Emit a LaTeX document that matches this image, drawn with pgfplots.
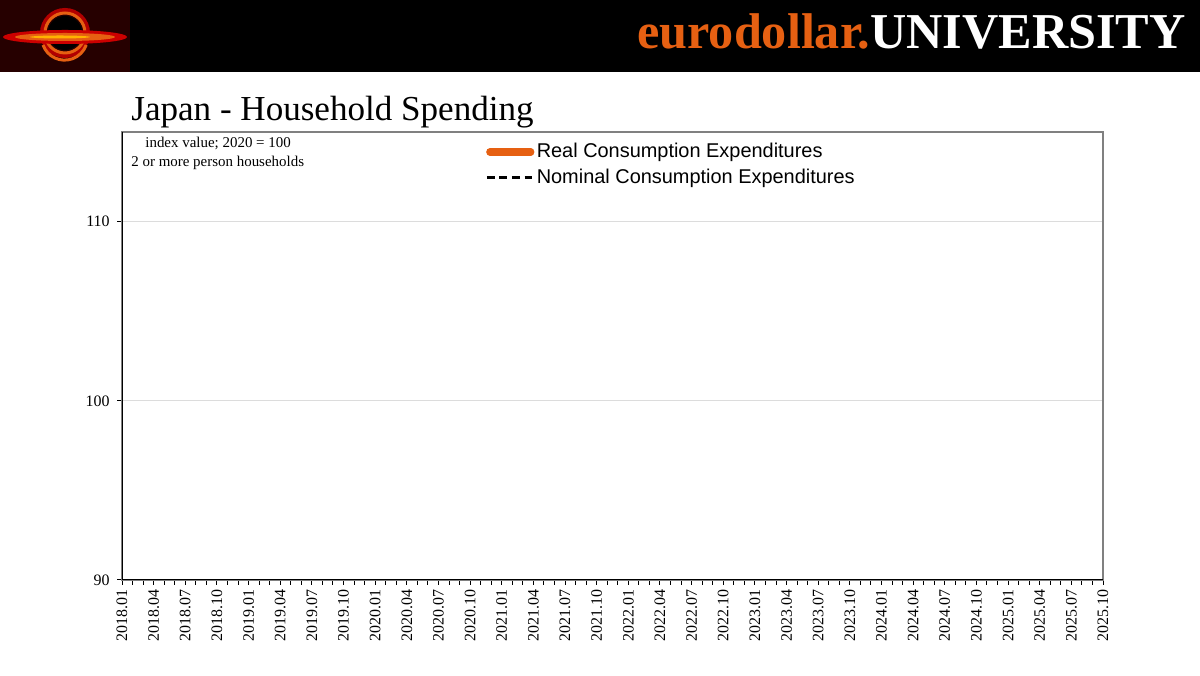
\documentclass[border=0pt]{standalone}
\usepackage{fontspec}
\setmainfont{Liberation Serif}
\newfontfamily\arial{Liberation Sans}
\usepackage{pgfplots}
\pgfplotsset{compat=1.18}
\definecolor{edorange}{RGB}{230,96,18}
\definecolor{framegray}{RGB}{128,128,128}
\definecolor{gridgray}{RGB}{220,220,220}
\pgfplotsset{
  realleg/.style={legend image code/.code={\draw[edorange, line width=3.6bp, line cap=round] (2.5bp,0pt) -- (23bp,0pt);}},
  nomleg/.style={legend image code/.code={\draw[black, line width=1.4bp, dash pattern=on 4bp off 2.3bp] (1bp,0pt) -- (23.5bp,0pt);}},
}
\begin{document}
\begin{tikzpicture}[x=0.5bp,y=0.5bp]
\path[use as bounding box,fill=white] (0,0) rectangle (1200,675);
% header bar
\fill[black] (0,603) rectangle (1200,675);
% logo (stylised)
\begin{scope}
\fill[black!85!red] (0,603) rectangle (130,675);
\draw[red!70!black,line width=3bp] (65,642) circle [radius=22];
\draw[edorange,line width=1.5bp] (65,642) circle [radius=20];
\fill[black] (65,642) circle [radius=17];
\fill[red!80!black] (65,638) ellipse [x radius=62, y radius=7];
\fill[edorange] (65,638) ellipse [x radius=50, y radius=4];
\fill[orange!60!yellow] (60,638) ellipse [x radius=30, y radius=1.5];
\draw[edorange,line width=1.5bp] (43,630) arc[start angle=200,end angle=340,radius=23];
\end{scope}
\node[anchor=base east,inner sep=0pt,font=\fontsize{25.2}{29}\selectfont\bfseries] at (1186,626)
  {\textcolor{edorange}{eurodollar.}\textcolor{white}{UNIVERSITY}};
% title
\node[anchor=base west,inner sep=0pt,font=\fontsize{17.6}{20}\selectfont] at (131,554) {Japan - Household Spending};
\node[anchor=base west,inner sep=0pt,font=\fontsize{7.5}{9}\selectfont] at (145,527) {index value; 2020 = 100};
\node[anchor=base west,inner sep=0pt,font=\fontsize{7.5}{9}\selectfont] at (131,508) {2 or more person households};
\begin{axis}[
  at={(61bp,47.5bp)}, anchor=south west,
  scale only axis, width=490.5bp, height=224bp,
  xmin=0, xmax=93, ymin=90, ymax=115,
  axis line style={framegray, line width=1bp},
  xtick={0,3,...,93},
  minor xtick={0,1,...,93},
  xticklabels={2018.01,2018.04,2018.07,2018.10,2019.01,2019.04,2019.07,2019.10,2020.01,2020.04,2020.07,2020.10,2021.01,2021.04,2021.07,2021.10,2022.01,2022.04,2022.07,2022.10,2023.01,2023.04,2023.07,2023.10,2024.01,2024.04,2024.07,2024.10,2025.01,2025.04,2025.07,2025.10},
  x tick label style={rotate=90, anchor=east, font=\fontsize{8}{9}\selectfont, inner sep=2.2bp},
  y tick label style={font=\fontsize{8}{9}\selectfont, inner sep=3.5bp},
  ytick={90,100,110},
  tick align=outside,
  major tick length=2.5bp, minor tick length=2.5bp,
  tick style={black, line width=0.5bp},
  xtick pos=bottom, ytick pos=left,
  ymajorgrids, major grid style={gridgray, line width=0.5bp},
  /pgf/number format/assume math mode=true,
  legend style={draw=none, fill=none, at={(0.370,0.985)}, anchor=north west,
    font=\arial\fontsize{10}{12}\selectfont, column sep=0pt, inner sep=0pt,
    nodes={text height=7.3bp, text depth=2bp, inner ysep=1.8bp, inner xsep=1.2bp}},
  legend cell align=left,
]
\addlegendimage{realleg}
\addlegendentry{Real Consumption Expenditures}
\addlegendimage{nomleg}
\addlegendentry{Nominal Consumption Expenditures}
\draw[black, line width=0.8bp] (rel axis cs:0,1) -- (rel axis cs:0,0) -- (rel axis cs:1,0);
\end{axis}
\end{tikzpicture}
\end{document}
